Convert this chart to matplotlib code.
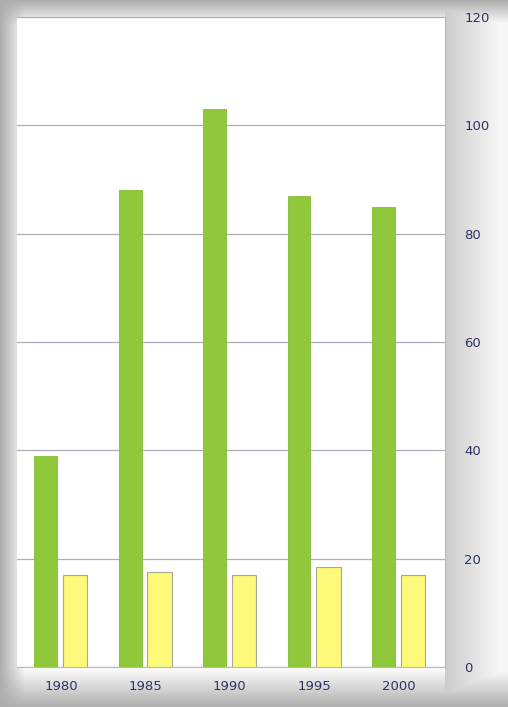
import numpy as np
import matplotlib
matplotlib.use("Agg")
import matplotlib.pyplot as plt

years = ["1980", "1985", "1990", "1995", "2000"]
green_vals = [39, 88, 103, 87, 85]
yellow_vals = [17, 17.5, 17, 18.5, 17]
y_ticks = [0, 20, 40, 60, 80, 100, 120]

W, H = 508, 707
fig = plt.figure(figsize=(W / 100, H / 100), dpi=100)

# ── Shadowed backdrop ─────────────────────────────────────────────────────
bg = fig.add_axes([0, 0, 1, 1])
bg.set_axis_off()
px = np.arange(W)[None, :].astype(float)
py = np.arange(H)[:, None].astype(float)
dl = np.clip(px / 25, 0, 1)
dt = np.clip(py / 25, 0, 1)
db = np.clip((H - py) / 40, 0, 1)
shade = 0.68 + 0.32 * dl * dt * db
# right band behind tick labels: gray next to the plot, fading outwards
right = np.clip((px - 445) / 55, 0, 1)
band = np.where(px >= 445, 0.80 + 0.17 * right, 1.0)
shade = np.minimum(shade, band * np.ones_like(py))
bg.imshow(np.dstack([shade, shade, shade]), extent=[0, 1, 0, 1],
          aspect="auto", origin="upper", zorder=0)
bg.set_xlim(0, 1)
bg.set_ylim(0, 1)

# ── Plot area ─────────────────────────────────────────────────────────────
ax = fig.add_axes([17 / W, 1 - 667 / H, (445 - 17) / W, (667 - 17) / H])
ax.set_facecolor("white")
x = np.arange(len(years))

ax.bar(x - 0.18, green_vals, width=0.27, color="#8fc83a",
       edgecolor="#86bb36", linewidth=0.6, zorder=3)
ax.bar(x + 0.17, yellow_vals, width=0.29, color="#fdf97a",
       edgecolor="#a8a890", linewidth=0.8, zorder=3)

ax.set_xlim(-0.52, 4.55)
ax.set_ylim(0, 120)
ax.set_yticks(y_ticks)
ax.yaxis.tick_right()
ax.set_xticks(x)
ax.set_xticklabels(years)
ax.tick_params(axis="both", length=0, colors="#2e3566", labelsize=9.5)
ax.tick_params(axis="y", pad=14)
ax.tick_params(axis="x", pad=9)
ax.yaxis.grid(True, color="#aeaeba", linewidth=0.9, zorder=0)
for side in ["top", "left"]:
    ax.spines[side].set_visible(False)
for side in ["right", "bottom"]:
    ax.spines[side].set_color("#b8b8c0")
ax.set_axisbelow(True)

plt.savefig("out.png", dpi=100)
